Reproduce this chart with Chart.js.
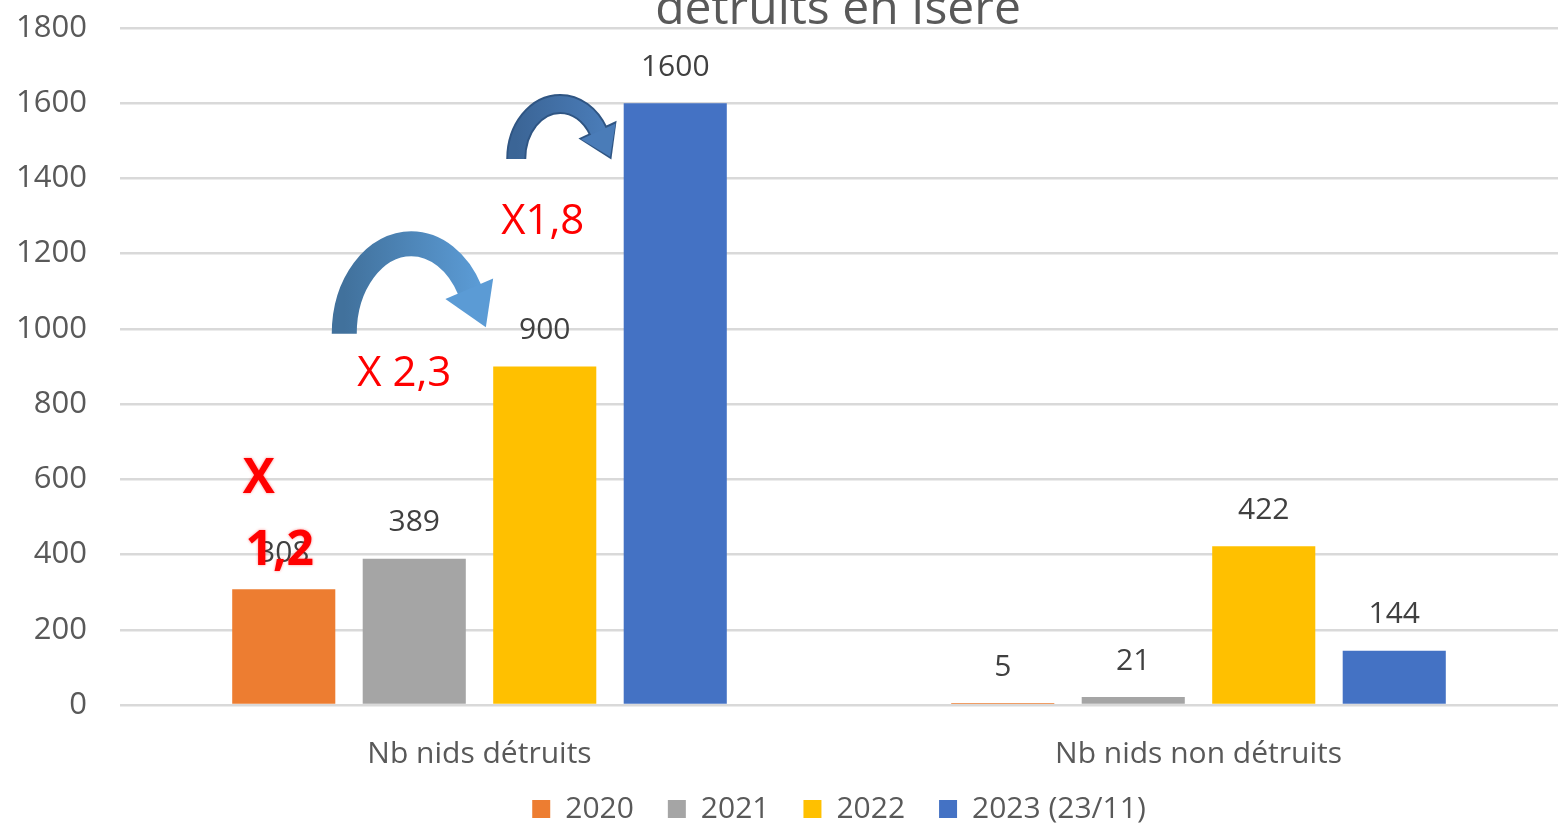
<!DOCTYPE html>
<html><head><meta charset="utf-8">
<script src="https://cdn.jsdelivr.net/npm/chart.js@4/dist/chart.umd.min.js"></script>
<style>html,body{margin:0;padding:0;background:#fff;overflow:hidden}#wrap{width:1558px;height:827px;position:relative}</style>
</head><body><div id="wrap"><canvas id="c"></canvas></div>
<script>
const categories = ['Nb nids détruits', 'Nb nids non détruits'];
const seriesNames = ['2020', '2021', '2022', '2023 (23/11)'];
const values2020 = [308, 5];
const values2021 = [389, 21];
const values2022 = [900, 422];
const values2023 = [1600, 144];
const seriesColors = ['#ED7D31', '#A5A5A5', '#FFC000', '#4472C4'];
const yTickValues = [0, 200, 400, 600, 800, 1000, 1200, 1400, 1600, 1800];
const titleText = 'détruits en Isère';
const ratioLabels = ['X', '1,2', 'X 2,3', 'X1,8'];

const FONT = "'Open Sans', 'DejaVu Sans', sans-serif";
const seriesValues = [values2020, values2021, values2022, values2023];

const titlePlugin = {
  id: 'cutTitle',
  beforeDraw(chart) {
    const ctx = chart.ctx;
    ctx.save();
    ctx.font = '48px ' + FONT;
    ctx.fillStyle = '#595959';
    ctx.textAlign = 'center';
    ctx.textBaseline = 'alphabetic';
    ctx.fillText(titleText, 838, 24);
    ctx.restore();
  }
};

const valueLabels = {
  id: 'valueLabels',
  afterDatasetsDraw(chart) {
    const ctx = chart.ctx;
    ctx.save();
    ctx.font = '30px ' + FONT;
    ctx.fillStyle = '#404040';
    ctx.textAlign = 'center';
    ctx.textBaseline = 'middle';
    chart.data.datasets.forEach((ds, i) => {
      const meta = chart.getDatasetMeta(i);
      meta.data.forEach((bar, j) => {
        ctx.fillText(String(ds.data[j]), bar.x, bar.y - 36);
      });
    });
    ctx.restore();
  }
};

function drawCurvedArrow(ctx, o) {
  const a0 = Math.PI, a1 = Math.PI * 11 / 6;
  const ex = o.cx + o.rx * Math.cos(a1), ey = o.cy + o.ry * Math.sin(a1);
  let tx = -o.rx * Math.sin(a1), ty = o.ry * Math.cos(a1);
  const tl = Math.hypot(tx, ty); tx /= tl; ty /= tl;
  const nx = -ty, ny = tx;
  const grad = ctx.createLinearGradient(o.cx - o.rx, 0, o.cx + o.rx, 0);
  grad.addColorStop(0, o.c1); grad.addColorStop(1, o.c2);
  if (o.outline) {
    ctx.strokeStyle = o.outline;
    ctx.lineWidth = o.thick + 4;
    ctx.beginPath();
    ctx.ellipse(o.cx, o.cy, o.rx, o.ry, 0, a0, a1, false);
    ctx.stroke();
    ctx.fillStyle = o.outline;
    ctx.beginPath();
    ctx.moveTo(ex + nx * (o.headHalf + 2) - tx * 2, ey + ny * (o.headHalf + 2) - ty * 2);
    ctx.lineTo(ex + tx * (o.headLen + 3), ey + ty * (o.headLen + 3));
    ctx.lineTo(ex - nx * (o.headHalf + 2) - tx * 2, ey - ny * (o.headHalf + 2) - ty * 2);
    ctx.closePath();
    ctx.fill();
  }
  ctx.strokeStyle = grad;
  ctx.lineWidth = o.thick;
  ctx.lineCap = 'butt';
  ctx.beginPath();
  ctx.ellipse(o.cx, o.cy, o.rx, o.ry, 0, a0, a1 + 0.02, false);
  ctx.stroke();
  ctx.fillStyle = o.c2;
  ctx.beginPath();
  ctx.moveTo(ex + nx * o.headHalf, ey + ny * o.headHalf);
  ctx.lineTo(ex + tx * o.headLen, ey + ty * o.headLen);
  ctx.lineTo(ex - nx * o.headHalf, ey - ny * o.headHalf);
  ctx.closePath();
  ctx.fill();
}

const annotations = {
  id: 'annotations',
  afterDatasetsDraw(chart) {
    const ctx = chart.ctx;
    const y = chart.scales.y;
    const bx = (i) => chart.getDatasetMeta(i).data[0].x;
    ctx.save();
    drawCurvedArrow(ctx, { cx: bx(1) - 3, cy: y.getPixelForValue(987), rx: 67, ry: 90, thick: 25,
      headLen: 42, headHalf: 26, c1: '#41719C', c2: '#5B9BD5' });
    drawCurvedArrow(ctx, { cx: bx(3) - 115, cy: y.getPixelForValue(1452), rx: 44, ry: 55, thick: 16,
      headLen: 28, headHalf: 19, c1: '#3B6596', c2: '#4A7CB8', outline: '#2F5583' });
    ctx.fillStyle = '#FF0000';
    ctx.textAlign = 'center';
    ctx.textBaseline = 'middle';
    ctx.shadowColor = 'rgba(255,0,0,0.45)';
    ctx.shadowBlur = 3;
    ctx.font = 'bold 48px ' + FONT;
    ctx.fillText(ratioLabels[0], bx(0) - 25, y.getPixelForValue(600));
    ctx.fillText(ratioLabels[1], bx(0) - 4, y.getPixelForValue(408));
    ctx.shadowBlur = 0;
    ctx.shadowColor = 'transparent';
    ctx.font = '42px ' + FONT;
    ctx.fillText(ratioLabels[2], bx(1) - 10, y.getPixelForValue(880));
    ctx.fillText(ratioLabels[3], bx(2) - 2, y.getPixelForValue(1283));
    ctx.restore();
  }
};

new Chart(document.getElementById('c'), {
  type: 'bar',
  data: {
    labels: categories,
    datasets: seriesNames.map((n, i) => ({
      label: n,
      data: seriesValues[i],
      backgroundColor: seriesColors[i],
      borderWidth: 0,
      barPercentage: 0.79,
      categoryPercentage: 0.726
    }))
  },
  options: {
    responsive: true,
    maintainAspectRatio: false,
    animation: false,
    layout: { padding: { top: 28, right: -5, left: 0, bottom: -7 } },
    plugins: {
      legend: {
        position: 'bottom',
        fullSize: false,
        labels: {
          font: { family: FONT, size: 30 },
          color: '#595959',
          boxWidth: 18,
          boxHeight: 18,
          padding: 34
        }
      },
      tooltip: { enabled: false }
    },
    scales: {
      x: {
        grid: { display: false, drawTicks: false },
        border: { display: false },
        ticks: { font: { family: FONT, size: 30 }, color: '#595959', padding: 31 },
        afterFit(s) {
          s.height = 55;
          s._computeLabelArea = function () { return undefined; };
        }
      },
      y: {
        min: 0, max: 1800,
        afterBuildTicks(s) { s.ticks = yTickValues.map(v => ({ value: v })); },
        grid: { color: '#D9D9D9', lineWidth: 2.5, drawTicks: false },
        border: { display: false },
        ticks: { font: { family: FONT, size: 31 }, color: '#595959', padding: 33,
          callback: (v) => String(v) },
        afterFit(s) { s.width = 120; s.paddingTop = 0; s.paddingBottom = 0; }
      }
    }
  },
  plugins: [titlePlugin, valueLabels, annotations]
});
</script></body></html>
